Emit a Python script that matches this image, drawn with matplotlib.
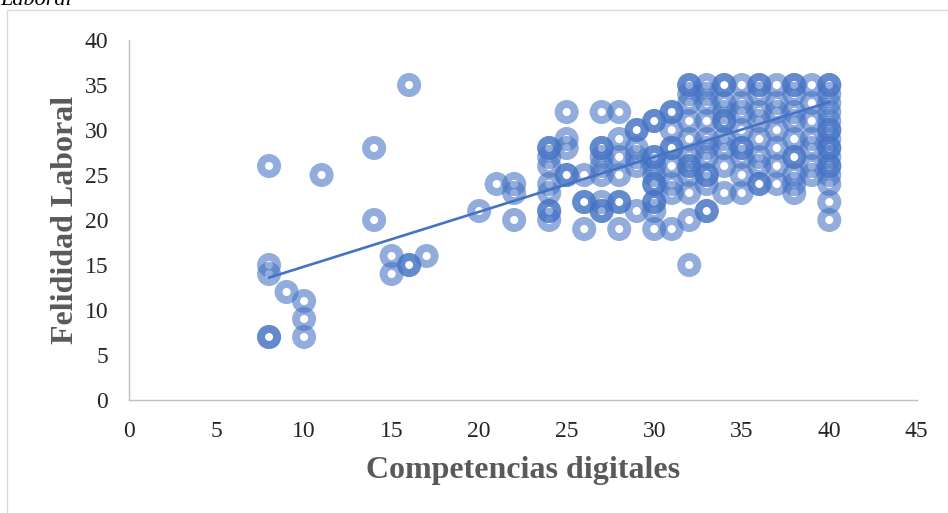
"""
plot.py - dispersion Competencias digitales vs Felididad Laboral
"""
import numpy as np
import matplotlib
matplotlib.use('Agg')
import matplotlib.pyplot as plt
from matplotlib.patches import Rectangle

# ------------------------Data--------------------------------------------------
# one list of y values per x value (repeats = darker rings)
x_vals = [8, 9, 10, 11, 14, 15, 16, 17, 20, 21, 22, 24, 25, 26, 27, 28, 29,
          30, 31, 32, 33, 34, 35, 36, 37, 38, 39, 40]
y_vals = [
    [26, 15, 14, 7, 7],
    [12],
    [11, 9, 7],
    [25],
    [28, 20],
    [16, 14],
    [35, 15, 15],
    [16],
    [21],
    [24],
    [24, 23, 20],
    [28, 28, 27, 26, 24, 23, 21, 21, 20],
    [32, 29, 28, 25, 25],
    [25, 22, 22, 19],
    [32, 28, 28, 27, 26, 25, 22, 21, 21],
    [32, 29, 27, 25, 22, 22, 19],
    [30, 30, 28, 27, 26, 21],
    [31, 31, 27, 27, 26, 25, 24, 24, 22, 22, 21, 19],
    [32, 32, 30, 28, 28, 26, 24, 23, 19],
    [35, 35, 34, 33, 31, 29, 27, 26, 26, 25, 23, 20, 15],
    [35, 34, 33, 31, 29, 28, 27, 25, 25, 24, 21, 21],
    [35, 35, 33, 32, 31, 31, 29, 28, 26, 23],
    [35, 33, 32, 30, 28, 28, 27, 25, 23],
    [35, 35, 34, 32, 31, 29, 27, 26, 24, 24],
    [35, 33, 32, 30, 28, 26, 24],
    [35, 35, 34, 32, 31, 29, 27, 27, 25, 24, 23],
    [35, 33, 31, 29, 28, 26, 25],
    [35, 35, 34, 33, 32, 31, 30, 30, 29, 28, 28, 27, 26, 26, 25, 24, 22, 20],
]
# linear trend line as drawn in the picture
trend_x = [8, 40]
trend_y = [13.6, 33.1]

x_ticks = [0, 5, 10, 15, 20, 25, 30, 35, 40, 45]
y_ticks = [0, 5, 10, 15, 20, 25, 30, 35, 40]
# ------------------------------------------------------------------------------
xs = []
ys = []
for i in range(len(x_vals)):
    for v in y_vals[i]:
        xs.append(x_vals[i])
        ys.append(v)

blue = '#4472C4'
fig = plt.figure(figsize=(9.48, 5.13), dpi=100)
ax = fig.add_axes([0.1361, 0.2203, 0.831, 0.7017])

ax.scatter(xs, ys, s=135, facecolors='none', edgecolors=blue,
           linewidths=5.7, alpha=0.58, zorder=3)
ax.plot(trend_x, trend_y, color=blue, lw=1.9, zorder=4)

ax.set_xlim(0, 45)
ax.set_ylim(0, 40)
ax.set_xticks(x_ticks)
ax.set_yticks(y_ticks)
for s in ['top', 'right']:
    ax.spines[s].set_visible(False)
for s in ['left', 'bottom']:
    ax.spines[s].set_color('#BFBFBF')
    ax.spines[s].set_linewidth(1.0)
ax.tick_params(length=0, labelsize=17)
ax.tick_params(axis='x', pad=15)
ax.tick_params(axis='y', pad=15)
for lab in ax.get_xticklabels() + ax.get_yticklabels():
    lab.set_fontfamily('Liberation Serif')
    lab.set_color('#262626')

ax.set_xlabel('Competencias digitales', fontsize=23, fontweight='bold',
              family='Liberation Serif', color='#595959', labelpad=10)
ax.set_ylabel('Felididad Laboral', fontsize=23, fontweight='bold',
              family='Liberation Serif', color='#595959', labelpad=3)

# chart frame and cut caption at top
fig.patches.append(Rectangle((7/948, -0.1), 1.0, 1.0 - 10/513 + 0.1,
                             transform=fig.transFigure, fill=False,
                             edgecolor='#D9D9D9', lw=1.0))
fig.text(0.0, 1 - 5/513, 'Laboral', fontsize=16, style='italic',
         family='Liberation Serif', va='baseline', ha='left')

plt.savefig('out.png', dpi=100)
